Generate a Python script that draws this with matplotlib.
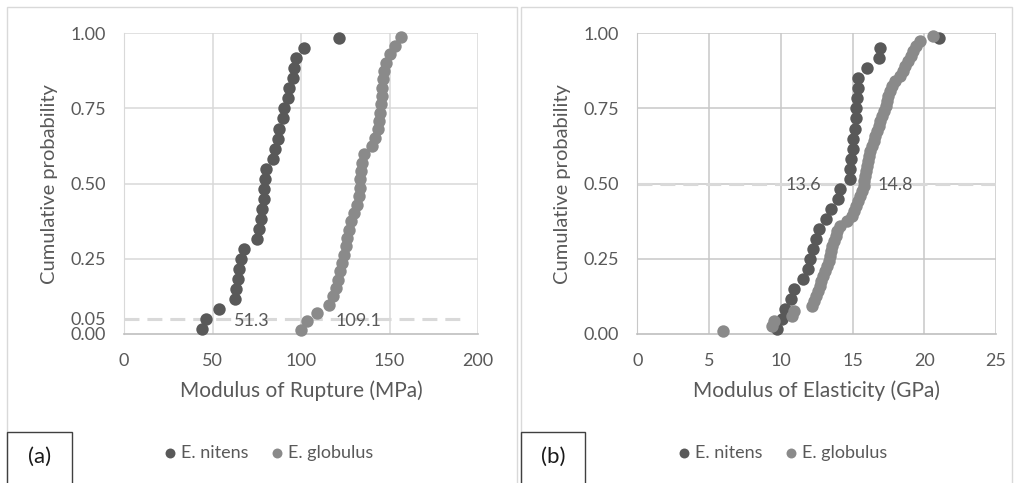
import numpy as np
import matplotlib
matplotlib.use("Agg")
import matplotlib.pyplot as plt
from matplotlib.patches import Rectangle

plt.rcParams["font.family"] = ["Lato", "DejaVu Sans"]

# values (sorted test results)
mor_nitens = [43.8, 46.6, 53.8, 62.9, 63.3, 64.2, 65.2, 66.1, 68.0, 75.2,
              76.1, 77.4, 78.0, 78.9, 79.3, 79.9, 80.5, 84.0, 85.5, 86.9,
              87.8, 89.7, 90.3, 92.9, 93.5, 95.4, 96.3, 96.9, 101.6, 121.4]
mor_globulus = [100.1, 103.5, 109.2, 115.8, 118.0, 119.5, 121.1, 122.0, 123.3,
                124.4, 125.6, 126.2, 127.1, 128.0, 129.8, 131.4, 132.5, 133.2,
                133.5, 134.0, 134.5, 135.6, 140.3, 142.0, 143.5, 144.0, 144.7,
                145.2, 145.6, 146.0, 146.4, 146.9, 148.1, 150.0, 153.2, 156.5]
moe_nitens = [9.71, 10.06, 10.29, 10.71, 10.94, 11.52, 11.87, 12.03, 12.22, 12.45,
              12.66, 13.13, 13.5, 14.01, 14.13, 14.82, 14.82, 14.87, 15.01, 15.06,
              15.17, 15.24, 15.24, 15.29, 15.36, 15.36, 15.99, 16.84, 16.91, 21.05]
moe_globulus = [5.95, 9.4, 9.55, 10.8, 10.95, 12.2, 12.35, 12.47, 12.6, 12.7,
                12.82, 12.95, 13.07, 13.2, 13.33, 13.45, 13.52, 13.6, 13.7, 13.82,
                13.95, 14.15, 14.65, 14.95, 15.1, 15.25, 15.4, 15.52, 15.65, 15.78,
                15.83, 15.9, 15.95, 16.02, 16.1, 16.17, 16.25, 16.35, 16.5, 16.6,
                16.72, 16.83, 16.93, 17.06, 17.18, 17.3, 17.4, 17.5, 17.6, 17.75,
                17.95, 18.3, 18.5, 18.65, 18.85, 19.05, 19.25, 19.4, 19.7, 20.63]

series_names = ["E. nitens", "E. globulus"]
mor_ref = [51.3, 109.1]
moe_ref = [13.6, 14.8]

def cum_prob(vals):
    # plotting position from rank
    n = len(vals)
    return (np.arange(1, n + 1) - 0.5) / n

dark = "#595959"
light = "#8a8a8a"
txt = "#595959"

fig = plt.figure(figsize=(10.17, 4.83), dpi=100)
W, H = 1017, 483

def fx(px):
    return px / W

def fy(py):
    return 1 - py / H

# panel frames
fig.patches.append(Rectangle((fx(7), fy(490)), fx(517) - fx(7), fy(7) - fy(490),
                             transform=fig.transFigure, fill=False, ec="#d9d9d9", lw=1))
fig.patches.append(Rectangle((fx(521), fy(490)), fx(1012) - fx(521), fy(7) - fy(490),
                             transform=fig.transFigure, fill=False, ec="#d9d9d9", lw=1))

def panel(left_px, right_px, xs, xmax, xstep, ref_y, ref_x, ref_vals, ref_xpos,
          ref_yticks, xlabel, tag, box_left, box_right, leg_x, gridc):
    ax = fig.add_axes([fx(left_px), fy(334), fx(right_px) - fx(left_px), fy(33.3) - fy(334)])
    ax.set_xlim(0, xmax)
    ax.set_ylim(0, 1)
    ax.set_xticks(np.arange(0, xmax + 0.01, xstep))
    ax.set_yticks(ref_yticks)
    ax.set_yticklabels([f"{v:.2f}" for v in ref_yticks])
    ax.tick_params(length=0, labelsize=13, labelcolor=txt)
    ax.tick_params(axis="y", pad=13)
    ax.tick_params(axis="x", pad=14)
    ax.grid(True, color=gridc, lw=1.1)
    for t, gl in zip(ref_yticks, ax.get_ygridlines()):
        if t not in (0.25, 0.5, 0.75, 1.0):
            gl.set_visible(False)
    ax.set_axisbelow(True)
    for s in ax.spines.values():
        s.set_visible(False)
    ax.spines["left"].set_visible(True)
    ax.spines["bottom"].set_visible(True)
    ax.spines["left"].set_color(gridc)
    ax.spines["bottom"].set_color("#bfbfbf")
    ax.spines["bottom"].set_linewidth(1.2)

    ax.plot(ref_x, [ref_y, ref_y], color="#d9d9d9", lw=2.2,
            linestyle=(0, (4.9, 2.6)), zorder=1)

    for vals, col, name in zip(xs, [dark, light], series_names):
        ax.scatter(vals, cum_prob(vals), s=80, color=col, lw=0, label=name,
                   zorder=3, clip_on=False)

    for v, xp in zip(ref_vals, ref_xpos):
        ax.text(xp, ref_y - 0.006, f"{v}", fontsize=13, color=txt,
                ha="center", va="center", zorder=4)

    ax.set_xlabel(xlabel, fontsize=15, color=txt, labelpad=8)
    ax.set_ylabel("Cumulative probability", fontsize=14.5, color=txt, labelpad=9)

    leg = ax.legend(loc="center", bbox_to_anchor=(fx(leg_x), fy(453)),
                    bbox_transform=fig.transFigure, ncol=2, frameon=False,
                    fontsize=13, handletextpad=0.0, columnspacing=1.0,
                    markerscale=0.8, handlelength=1.2)
    for t in leg.get_texts():
        t.set_color(txt)

    fig.patches.append(Rectangle((fx(box_left), fy(490)), fx(box_right) - fx(box_left),
                                 fy(432) - fy(490), transform=fig.transFigure,
                                 fill=False, ec="#404040", lw=1))
    fig.text(fx((box_left + box_right) / 2), fy(457), tag, fontsize=16,
             color="#1a1a1a", ha="center", va="center")
    return ax

panel(124, 478, [mor_nitens, mor_globulus], 200, 50, 0.05, [0, 194],
      mor_ref, [72, 132.6], [0, 0.05, 0.25, 0.5, 0.75, 1.0],
      "Modulus of Rupture (MPa)", "(a)", 7, 72, 266, "#d9d9d9")
panel(637.3, 996, [moe_nitens, moe_globulus], 25, 5, 0.5, [0, 25],
      moe_ref, [11.6, 17.95], [0, 0.25, 0.5, 0.75, 1.0],
      "Modulus of Elasticity (GPa)", "(b)", 521, 585, 780, "#c8c8c8")

fig.savefig("out.png", dpi=100)
